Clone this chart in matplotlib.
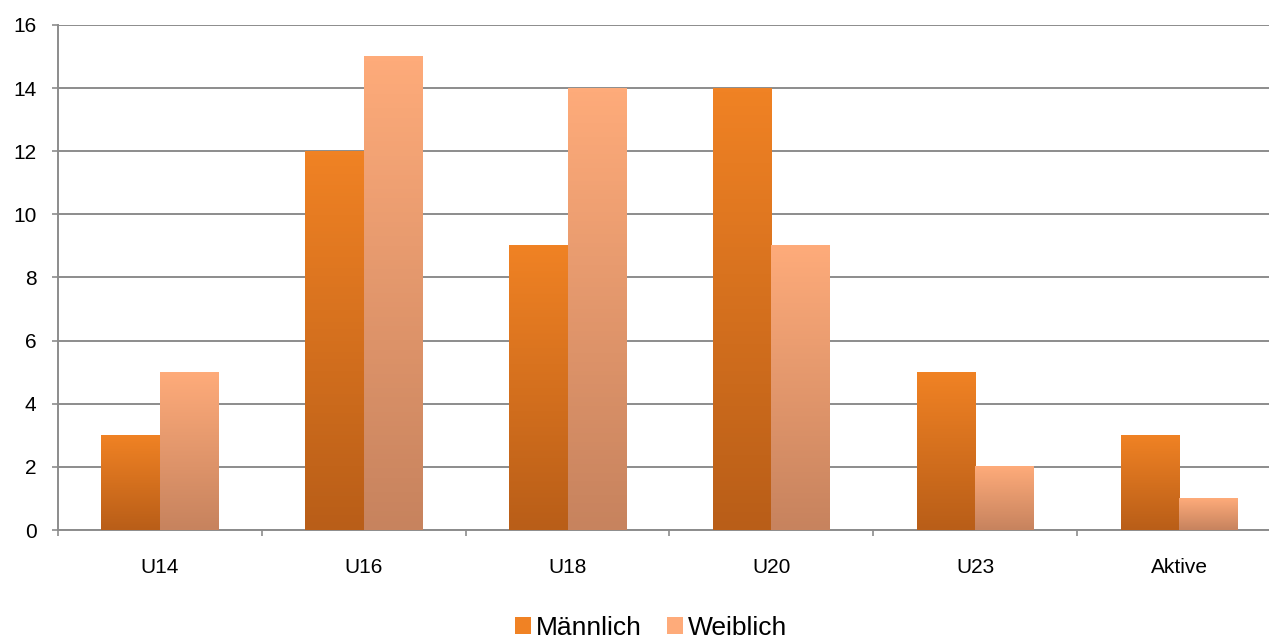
import numpy as np
import matplotlib
matplotlib.use("Agg")
import matplotlib.pyplot as plt
from matplotlib.colors import LinearSegmentedColormap
from matplotlib.patches import Patch

plt.rcParams['font.family'] = ['Liberation Sans', 'DejaVu Sans']

categories = ["U14", "U16", "U18", "U20", "U23", "Aktive"]
maennlich = [3, 12, 9, 14, 5, 3]
weiblich = [5, 15, 14, 9, 2, 1]
labels = ["Männlich", "Weiblich"]

# gradient colours (top, bottom)
grad = {"Männlich": ("#F08224", "#B95E18"), "Weiblich": ("#FEAB7A", "#C7835E")}

fig = plt.figure(figsize=(12.69, 6.41), dpi=100)
ax = fig.add_axes([58 / 1269, 111 / 641, 1223 / 1269, 505 / 641])

x = np.arange(len(categories))
width = 0.287
grid_c = "#8c8c8c"

ax.set_axisbelow(True)
ax.yaxis.grid(True, color=grid_c, linewidth=1.4)

for i, (lab, vals) in enumerate(zip(labels, [maennlich, weiblich])):
    top, bot = grad[lab]
    cmap = LinearSegmentedColormap.from_list(lab, [bot, top])
    bars = ax.bar(x + (i - 0.5) * width, vals, width, color=top, zorder=2)
    for b in bars:
        x0, w, h = b.get_x(), b.get_width(), b.get_height()
        ax.imshow(np.linspace(0, 1, 100).reshape(-1, 1), cmap=cmap, origin="lower",
                  extent=[x0, x0 + w, 0, h], aspect="auto", zorder=3)

ax.set_xlim(-0.5, len(categories) - 0.5)
ax.set_ylim(0, 16)
ax.set_yticks(np.arange(0, 17, 2))
ax.set_xticks(x)
ax.set_xticklabels(categories)
ax.set_xticks(np.arange(-0.5, len(categories)), minor=True)

for s in ["top", "right"]:
    ax.spines[s].set_visible(False)
for s in ["left", "bottom"]:
    ax.spines[s].set_color(grid_c)
    ax.spines[s].set_linewidth(1.4)

ax.tick_params(axis="y", colors=grid_c, length=4.5, width=1.2, labelsize=15, labelcolor="black", pad=11)
ax.tick_params(axis="x", which="major", length=0, labelsize=15, labelcolor="black", pad=20)
ax.tick_params(axis="x", which="minor", length=4.5, width=1.2, color=grid_c)

handles = [Patch(facecolor=grad["Männlich"][0]), Patch(facecolor=grad["Weiblich"][0])]
fig.legend(handles, labels, loc="lower center", bbox_to_anchor=(0.513, -0.035), ncol=2, frameon=False,
           fontsize=19, handlelength=0.6, handleheight=0.6, handletextpad=0.2, columnspacing=0.95)

fig.savefig("out.png", dpi=100)
